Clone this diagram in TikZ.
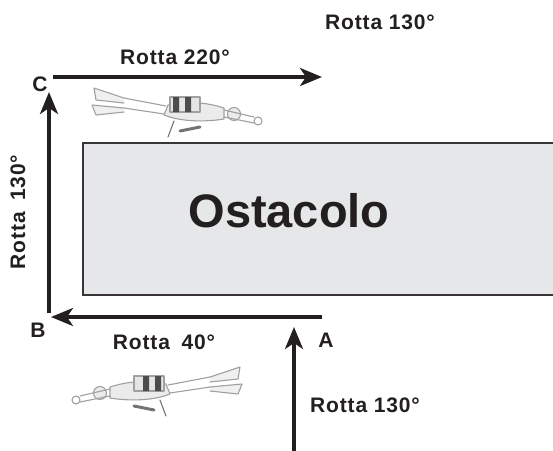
\documentclass[tikz,border=0pt]{standalone}
\usepackage{fontspec}
\setmainfont{Liberation Sans}
\usetikzlibrary{arrows.meta,positioning}
\definecolor{inkdark}{RGB}{35,31,32}
\definecolor{obstaclegray}{RGB}{230,231,232}
\definecolor{sketchgray}{RGB}{160,160,160}

\begin{document}
\begin{tikzpicture}[
  x=1pt, y=-1pt,
  every node/.style={font=\bfseries\fontsize{21}{25}\selectfont\addfontfeature{LetterSpace=4}, text=inkdark, inner sep=0pt},
  route/.style={draw=inkdark, line width=3.5pt, -{Stealth[length=22pt, width=18pt, inset=6pt]}},
  sketch/.style={draw=sketchgray, line width=1.1pt, line cap=round, line join=round},
  diver/.pic={
    % body and head
    \filldraw[sketch, fill=black!8] (48,-4) .. controls (30,-10) and (10,-11) .. (-8,-7) -- (-12,3) .. controls (5,10) and (30,10) .. (48,7) -- cycle;
    \filldraw[sketch, fill=black!8] (58,2) circle (6.5);
    % arms stretched forward
    \draw[sketch] (48,-2) -- (78,5) (48,5) -- (78,11);
    \draw[sketch] (82,9) circle (4);
    % legs and fins
    \draw[sketch] (-10,-6) -- (-52,-14) (-12,2) -- (-52,-4);
    \filldraw[sketch, fill=black!6] (-52,-14) -- (-82,-24) -- (-80,-12) -- (-52,-9);
    \filldraw[sketch, fill=black!6] (-52,-4) -- (-84,-7) -- (-80,3) -- (-52,0);
    % tank
    \filldraw[sketch, fill=black!10] (-6,-15) rectangle (24,0);
    \fill[black!70] (-3,-15) rectangle (3,0) (9,-15) rectangle (15,0);
    % hose and belt
    \draw[sketch, draw=black!55] (-2,9) -- (-8,25);
    \draw[black!55, line width=3pt, line cap=round] (4,19) -- (24,15);
  }
]
\useasboundingbox (0,0) rectangle (553,450);
\clip (0,0) rectangle (553,450);

% the obstacle
\filldraw[fill=obstaclegray, draw=inkdark!90, line width=2pt] (83,143) rectangle (570,295);
\node[font=\bfseries\fontsize{47}{54}\selectfont] (ost) at (289,211) {Ostacolo};

% turning points
\coordinate (a) at (322,317);
\coordinate (b) at (49,317);
\coordinate (c) at (49,77);
\coordinate (d) at (322,77);
\coordinate (start) at (294,455);

\draw[route, shorten >=10pt] (start) -- (start |- a);
\draw[route, shorten >=2pt] (a) -- (b);
\draw[route, shorten <=4pt, shorten >=15pt] (b) -- (c);
\draw[route, shorten <=4pt] (c) -- (d);

\node (lA) at (326,340) {A};
\node (lB) at (38,330) {B};
\node (lC) at (40,84) {C};

\node (r0) at (365,405) {Rotta 130°};
\node (r1) at (164,342) {Rotta\hspace{5pt} 40°};
\node[rotate=90] (r2) at (18,212) {Rotta\hspace{5pt} 130°};
\node (r3) at (175,57) {Rotta 220°};
\node (r4) at (380,22) {Rotta 130°};

% divers
\pic at (176,112) {diver};
\pic[xscale=-1] at (158,391) {diver};
\end{tikzpicture}
\end{document}
